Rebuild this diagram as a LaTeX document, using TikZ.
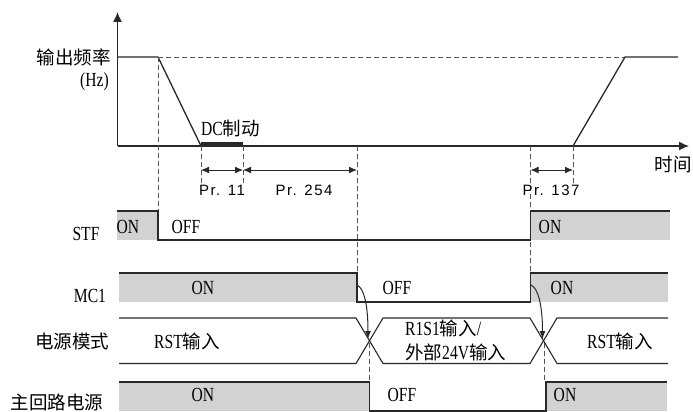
\documentclass[tikz,border=0pt]{standalone}
\usepackage{fontspec}
\setmainfont{Liberation Serif}[FakeStretch=0.78]
\newfontfamily\cjk{Noto Sans CJK SC}
\newfontfamily\prf{Liberation Sans}[LetterSpace=10]
\usetikzlibrary{arrows.meta}
\definecolor{ln}{RGB}{40,40,40}
\definecolor{gfill}{RGB}{210,210,210}
\definecolor{dsh}{RGB}{85,85,85}
\newcommand{\zh}[1]{{\cjk\fontsize{18.5}{21}\selectfont #1}}
\begin{document}
\begin{tikzpicture}[x=1pt,y=-1pt,
  wave/.style={draw=ln,line width=1.1pt},
  guide/.style={draw=dsh,line width=0.8pt,dash pattern=on 5pt off 3pt},
  lbl/.style={font=\fontsize{18.5}{21}\selectfont,inner sep=0pt},
  sig/.style={font=\fontsize{20}{22}\selectfont,inner sep=0pt},
  prl/.style={font=\prf\fontsize{15}{18}\selectfont,inner sep=0pt},
  dim/.style={draw=ln,line width=1pt,{Latex[length=8pt,width=7pt]}-{Latex[length=8pt,width=7pt]}},
  ax/.style={draw=ln,line width=1.3pt,-{Latex[length=10pt,width=9pt]}},
  cur/.style={draw=ln,line width=1pt,-{Latex[length=8pt,width=6pt]}},
]
\useasboundingbox (0,0) rectangle (693,412);

% axes
\coordinate (O) at (117.5,146);
\coordinate (ytip) at (117.5,12);
\coordinate (xtip) at (689,146);
\draw[ax] (O) -- (ytip);
\draw[ax] (O) -- (xtip);

% frequency curve
\coordinate (f0) at (117.5,57);
\coordinate (f1) at (158,57);
\coordinate (f2) at (201,146);
\coordinate (f3) at (573,146);
\coordinate (f4) at (625,57);
\coordinate (f5) at (678,57);
\draw[guide] (f1) -- (f4);
\draw[wave,line width=1.3pt] (f0) -- (f1) -- (f2);
\draw[wave,line width=1.3pt] (f3) -- (f4) -- (f5);
\fill[ln] (201,142) rectangle (243,147);

% guide lines
\draw[guide] (158,57) -- (158,211);
\draw[guide] (201,146) -- (201,183);
\draw[guide] (243,146) -- (243,183);
\draw[guide] (357,146) -- (357,273);
\draw[guide] (530.5,146) -- (530.5,273);
\draw[guide] (573,146) -- (573,183);
\draw[guide] (369.5,343) -- (369.5,382);
\draw[guide] (544,343) -- (544,382);

% dimension arrows
\coordinate (d1) at (201,170);
\coordinate (d2) at (243,170);
\coordinate (d3) at (357,170);
\coordinate (d4) at (530.5,170);
\coordinate (d5) at (573,170);
\draw[dim] (d1) -- (d2);
\draw[dim] (d2) -- (d3);
\draw[dim] (d4) -- (d5);

% STF
\fill[gfill] (117,211) rectangle (158,240);
\fill[gfill] (530.5,211) rectangle (670,240);
\draw[wave] (117,211) -- (158,211) -- (158,240) -- (530.5,240) -- (530.5,211) -- (670,211);

% MC1
\fill[gfill] (119,273) rectangle (357,302);
\fill[gfill] (530.5,273) rectangle (668,302);
\draw[wave] (119,273) -- (357,273) -- (357,302) -- (530.5,302) -- (530.5,273) -- (668,273);

% power mode
\draw[wave] (119,318) -- (356,318) -- (383,363.5) -- (530,363.5) -- (557,318) -- (668,318);
\draw[wave] (119,363.5) -- (356,363.5) -- (383,318) -- (530,318) -- (557,363.5) -- (668,363.5);

% main circuit power
\fill[gfill] (119,382) rectangle (369.5,411);
\fill[gfill] (546,382) rectangle (667,411);
\draw[wave] (119,382) -- (369.5,382) -- (369.5,411) -- (546,411) -- (546,382) -- (667,382);

% curved arrows
\coordinate (m1) at (357,285);
\coordinate (x1) at (368,339);
\coordinate (m2) at (531,285);
\coordinate (x2) at (542.5,339);
\draw[cur] (m1) .. controls (364,288) and (368,305) .. (x1);
\draw[cur] (m2) .. controls (538,288) and (542.5,305) .. (x2);

% labels
\node[lbl,anchor=east] (fq) at (111,57) {\zh{输出频率}};
\node[sig,anchor=east] (hz) at (109,82) {(Hz)};
\node[sig,anchor=west] (dc) at (201,128) {DC\zh{制动}};
\node[lbl] (time) at (673,165) {\zh{时间}};
\node[prl] (p11) at (222,190) {Pr. 11};
\node[prl] (p254) at (304,190) {Pr. 254};
\node[prl] (p137) at (551,190) {Pr. 137};

\node[sig] (stf) at (86,234) {STF};
\node[sig] (mc1) at (90,296) {MC1};
\node[lbl] (pm) at (72,341) {\zh{电源模式}};
\node[lbl] (mp) at (57,402) {\zh{主回路电源}};

\node[sig] (s1) at (128,227) {ON};
\node[sig] (s2) at (186,227) {OFF};
\node[sig] (s3) at (550,227) {ON};
\node[sig] (c1) at (203,288) {ON};
\node[sig] (c2) at (397,288) {OFF};
\node[sig] (c3) at (562,288) {ON};
\node[sig] (r1) at (187,341) {RST\zh{输入}};
\node[sig,anchor=west] (r2) at (405,328) {R1S1\zh{输入}/};
\node[sig,anchor=west] (r3) at (405,352) {\zh{外部}24V\zh{输入}};
\node[sig] (r4) at (620,341) {RST\zh{输入}};
\node[sig] (p1) at (203,395) {ON};
\node[sig] (p2) at (402,395) {OFF};
\node[sig] (p3) at (565,395) {ON};
\end{tikzpicture}
\end{document}
